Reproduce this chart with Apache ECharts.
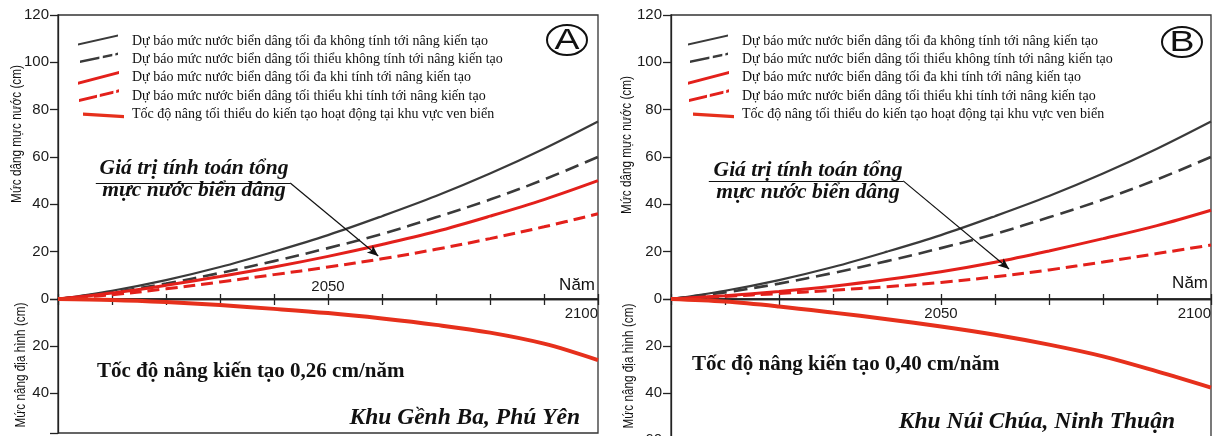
<!DOCTYPE html>
<html><head><meta charset="utf-8">
<script src="https://cdn.jsdelivr.net/npm/echarts@6/dist/echarts.min.js"></script>
<style>html,body{margin:0;padding:0;background:#fff}#c{width:1213px;height:436px}</style>
</head><body><div id="c"></div>
<script>
// ---------------- DATA ----------------
const years = [2000, 2010, 2020, 2030, 2040, 2050, 2060, 2070, 2080, 2090, 2100];
// sea level rise without tectonic uplift (same in both panels)
const seaMaxNoTect = [0, 3.5, 8, 13.5, 20, 27, 35, 43.5, 53, 63.5, 75];
const seaMinNoTect = [0, 2.8, 6.5, 11, 16, 21.5, 27.5, 34.5, 42, 50.5, 60];
// Panel A - Gềnh Ba, Phú Yên
const seaMaxTectA = [0, 2.5, 5.8, 9.5, 13.5, 18, 23, 28.5, 35, 42, 50];
const seaMinTectA = [0, 1.8, 4.3, 7.2, 10.3, 13.5, 17, 21, 25.5, 30.5, 36];
const upliftA     = [0, 0.4, 1.3, 2.6, 4.2, 6, 8.3, 11, 14.3, 19, 26];
// Panel B - Núi Chúa, Ninh Thuận
const seaMaxTectB = [0, 1.4, 3.2, 5.4, 8.2, 11.5, 15.5, 20.3, 25.5, 31, 37.5];
const seaMinTectB = [0, 1.1, 2.3, 3.7, 5.2, 7, 9.4, 12.3, 15.6, 19.2, 22.8];
const upliftB     = [0, 1.1, 3.2, 5.8, 8.6, 11.7, 15.2, 19.4, 24.4, 30.8, 37.7];

const xLabelsBelowA = [2100];
const xLabelsAboveA = [2050];
const xLabelsBelowB = [2050, 2100];
const xLabelsAboveB = [];

const legendNames = [
  'Dự báo mức nước biển dâng tối đa không tính tới nâng kiến tạo',
  'Dự báo mức nước biển dâng tối thiểu không tính tới nâng kiến tạo',
  'Dự báo mức nước biển dâng tối đa khi tính tới nâng kiến tạo',
  'Dự báo mức nước biển dâng tối thiểu khi tính tới nâng kiến tạo',
  'Tốc độ nâng tối thiểu do kiến tạo hoạt động tại khu vực ven biển'
];
const yNameUpper = 'Mức dâng mực nước (cm)';
const yNameLower = 'Mức nâng địa hình (cm)';
const xName = 'Năm';
const annotText = 'Giá trị tính toán tổng\nmực nước biển dâng';
const panelLetters = ['A', 'B'];
const rateTexts = ['Tốc độ nâng kiến tạo 0,26 cm/năm', 'Tốc độ nâng kiến tạo 0,40 cm/năm'];
const siteTexts = ['Khu Gềnh Ba, Phú Yên', 'Khu Núi Chúa, Ninh Thuận'];
// annotation pointer (data coordinates)
const pointerA = {start: [2007, 49], corner: [2043, 49], tip: [2059.3, 18.2]};
const pointerB = {start: [2007, 49.9], corner: [2043, 49.9], tip: [2062.6, 12.7]};

// ---------------- STYLE / BUILD ----------------
const C_BLACK = '#3a3a3a', C_RED = '#e3201b', C_UP = '#e6301c', C_AX = '#222';
const SANS = 'Liberation Sans', SERIF = 'Liberation Serif';
const pair = arr => years.map((y, i) => [y, arr[i]]);
const diff = (a, b) => years.map((y, i) => [y, +(a[i] - b[i]).toFixed(3)]);

function seg(x1, y1, x2, y2, h) {
  return `M ${x1} ${y1 - h} L ${x2} ${y2 - h} L ${x2} ${y2 + h} L ${x1} ${y1 + h} Z `;
}
function icon(x1, y1, x2, y2, h, dashes) {
  let p = 'M 0 0 L 0.01 0 L 0 0.01 Z M 49 14 L 48.99 14 L 49 13.99 Z ';
  for (const [a, b] of dashes) {
    p += seg(x1 + (x2 - x1) * a, y1 + (y2 - y1) * a, x1 + (x2 - x1) * b, y1 + (y2 - y1) * b, h);
  }
  return 'path://' + p;
}
const icons = [
  icon(0, 10.5, 40, 1.5, 1.1, [[0, 1]]),
  icon(2, 9.4, 40, 1.4, 1.2, [[0, 0.51], [0.6, 0.85], [0.93, 1]]),
  icon(0, 12.4, 41, 1.6, 1.5, [[0, 1]]),
  icon(1, 11.4, 41, 1.6, 1.5, [[0, 0.45], [0.52, 0.86], [0.93, 1]]),
  icon(5, 6.5, 46, 9.1, 1.6, [[0, 1]])
];
const iconColors = [C_BLACK, C_BLACK, C_RED, C_RED, C_UP];

function legendFor(left) {
  return {
    orient: 'vertical', left: left, top: 34, padding: 0, itemWidth: 49, itemHeight: 14, itemGap: 4.4,
    selectedMode: false,
    itemStyle: {borderWidth: 0},
    textStyle: {fontFamily: SERIF, fontSize: 14, color: '#111'},
    data: legendNames.map((n, i) => ({name: n, icon: icons[i], itemStyle: {color: iconColors[i], borderWidth: 0}}))
  };
}

const panels = [
  {left: 58, lowerH: 134, lowerMax: 57, max: seaMaxTectA, min: seaMinTectA, up: upliftA,
   below: xLabelsBelowA, above: xLabelsAboveA, ptr: pointerA},
  {left: 671, lowerH: 141, lowerMax: 60, max: seaMaxTectB, min: seaMinTectB, up: upliftB,
   below: xLabelsBelowB, above: xLabelsAboveB, ptr: pointerB}
];

const grids = [], xAxes = [], yAxes = [], series = [];
const lineAx = {show: true, lineStyle: {color: C_AX, width: 1.3}};
panels.forEach((p, k) => {
  const gu = 2 * k, gl = 2 * k + 1;
  grids.push({left: p.left, top: 15, width: 540, height: 284, show: true, borderColor: '#333', borderWidth: 1.3,
    outerBoundsMode: 'none', containLabel: false});
  grids.push({left: p.left, top: 299, width: 540, height: p.lowerH, show: true, borderColor: '#333', borderWidth: 1.3,
    outerBoundsMode: 'none', containLabel: false});
  const xBase = {type: 'value', min: 2000, max: 2100, interval: 10, splitLine: {show: false}, axisLine: lineAx};
  xAxes.push(Object.assign({}, xBase, {gridIndex: gu, position: 'bottom',
    axisTick: {show: true, length: 6, lineStyle: {color: C_AX, width: 1.3}},
    axisLabel: {show: true, margin: 7, alignMaxLabel: 'right', fontFamily: SANS, fontSize: 15, color: '#1a1a1a',
      formatter: v => p.below.includes(v) ? String(v) : ''}}));
  xAxes.push(Object.assign({}, xBase, {gridIndex: gl, position: 'top',
    axisTick: {show: true, length: 5, lineStyle: {color: C_AX, width: 1.3}},
    axisLabel: {show: true, margin: 5, fontFamily: SANS, fontSize: 15, color: '#1a1a1a',
      formatter: v => p.above.includes(v) ? String(v) : ''}}));
  yAxes.push({type: 'value', gridIndex: gu, min: 0, max: 120, interval: 20, splitLine: {show: false},
    axisLine: lineAx, axisTick: {show: true, length: 8, lineStyle: {color: C_AX, width: 1.3}},
    axisLabel: {margin: 9, fontFamily: SANS, fontSize: 15, color: '#1a1a1a'}});
  yAxes.push({type: 'value', gridIndex: gl, min: 0, max: p.lowerMax, interval: 20, inverse: true, splitLine: {show: false},
    axisLine: lineAx, axisTick: {show: true, length: 8, lineStyle: {color: C_AX, width: 1.3}},
    axisLabel: {margin: 9, fontFamily: SANS, fontSize: 15, color: '#1a1a1a', showMaxLabel: true,
      formatter: v => (v === 0 || v % 20 !== 0) ? '' : String(v)}});

  const base = {type: 'line', xAxisIndex: gu, yAxisIndex: gu, smooth: 0.35, showSymbol: false, symbol: 'none', silent: true};
  // grey band between red curves
  series.push(Object.assign({}, base, {name: '_band' + k + 'a', stack: 'band' + k, data: pair(p.min),
    lineStyle: {width: 0, opacity: 0}, z: 1}));
  series.push(Object.assign({}, base, {name: '_band' + k + 'b', stack: 'band' + k, data: diff(p.max, p.min),
    lineStyle: {width: 0, opacity: 0}, areaStyle: {color: '#e8e8e8', opacity: 1}, z: 1}));
  series.push(Object.assign({}, base, {name: legendNames[0], data: pair(seaMaxNoTect),
    itemStyle: {color: C_BLACK}, lineStyle: {color: C_BLACK, width: 2.2}, z: 3,
    markLine: {silent: true, animation: false, label: {show: false}, symbolSize: [7, 11],
      lineStyle: {color: '#111', width: 1.2, type: 'solid'},
      data: [
        [{coord: p.ptr.start, symbol: 'none'}, {coord: p.ptr.corner, symbol: 'none'}],
        [{coord: p.ptr.corner, symbol: 'none'}, {coord: p.ptr.tip, symbol: 'arrow'}]
      ]}}));
  series.push(Object.assign({}, base, {name: legendNames[1], data: pair(seaMinNoTect),
    itemStyle: {color: C_BLACK}, lineStyle: {color: C_BLACK, width: 2.6, type: [14, 7]}, z: 3}));
  series.push(Object.assign({}, base, {name: legendNames[2], data: pair(p.max),
    itemStyle: {color: C_RED}, lineStyle: {color: C_RED, width: 3, type: 'solid'}, z: 3}));
  series.push(Object.assign({}, base, {name: legendNames[3], data: pair(p.min),
    itemStyle: {color: C_RED}, lineStyle: {color: C_RED, width: 3, type: [12, 6]}, z: 3}));
  series.push(Object.assign({}, base, {name: legendNames[4], xAxisIndex: gl, yAxisIndex: gl, data: pair(p.up),
    itemStyle: {color: C_UP}, lineStyle: {color: C_UP, width: 4}, z: 3}));
});

// text annotations (pixel layout)
const graphics = [];
const layout = [
  {annX: 194, annY: 157, rateX: 97, rateY: 372, siteX: 580, siteY: 418, namX: 595, namY: 285,
   yu: [17, 134], yl: [21, 365], circ: [567, 40]},
  {annX: 808, annY: 159, rateX: 692, rateY: 365, siteX: 1175, siteY: 422, namX: 1208, namY: 283,
   yu: [627, 145], yl: [629, 366], circ: [1182, 42]}
];
layout.forEach((L, k) => {
  graphics.push({type: 'text', x: L.annX, y: L.annY, style: {text: annotText, font: `italic bold 21.5px "${SERIF}"`,
    lineHeight: 22, align: 'center', verticalAlign: 'top', fill: '#111'}});
  graphics.push({type: 'text', x: L.rateX, y: L.rateY, style: {text: rateTexts[k], font: `bold 21px "${SERIF}"`,
    align: 'left', verticalAlign: 'middle', fill: '#111'}});
  graphics.push({type: 'text', x: L.siteX, y: L.siteY, style: {text: siteTexts[k], font: `italic bold 23.5px "${SERIF}"`,
    align: 'right', verticalAlign: 'middle', fill: '#111'}});
  graphics.push({type: 'text', x: L.namX, y: L.namY, style: {text: xName, font: `17px "${SANS}"`,
    align: 'right', verticalAlign: 'middle', fill: '#111'}});
  graphics.push({type: 'text', x: L.yu[0], y: L.yu[1], rotation: Math.PI / 2, scaleX: 0.84, style: {text: yNameUpper,
    font: `14px "${SANS}"`, align: 'center', verticalAlign: 'middle', fill: '#111'}});
  graphics.push({type: 'text', x: L.yl[0], y: L.yl[1], rotation: Math.PI / 2, scaleX: 0.84, style: {text: yNameLower,
    font: `14px "${SANS}"`, align: 'center', verticalAlign: 'middle', fill: '#111'}});
  graphics.push({type: 'ellipse', shape: {cx: L.circ[0], cy: L.circ[1], rx: 20, ry: 15},
    style: {fill: '#fff', stroke: '#111', lineWidth: 2}});
  graphics.push({type: 'text', x: L.circ[0], y: L.circ[1] + 1, scaleX: 1.25, style: {text: panelLetters[k],
    font: `30px "${SANS}"`, align: 'center', verticalAlign: 'middle', fill: '#111'}});
});

const chart = echarts.init(document.getElementById('c'), null, {renderer: 'canvas'});
chart.setOption({
  animation: false,
  backgroundColor: '#fff',
  grid: grids, xAxis: xAxes, yAxis: yAxes, series: series,
  legend: [legendFor(78), legendFor(688)],
  graphic: graphics
});
</script></body></html>
